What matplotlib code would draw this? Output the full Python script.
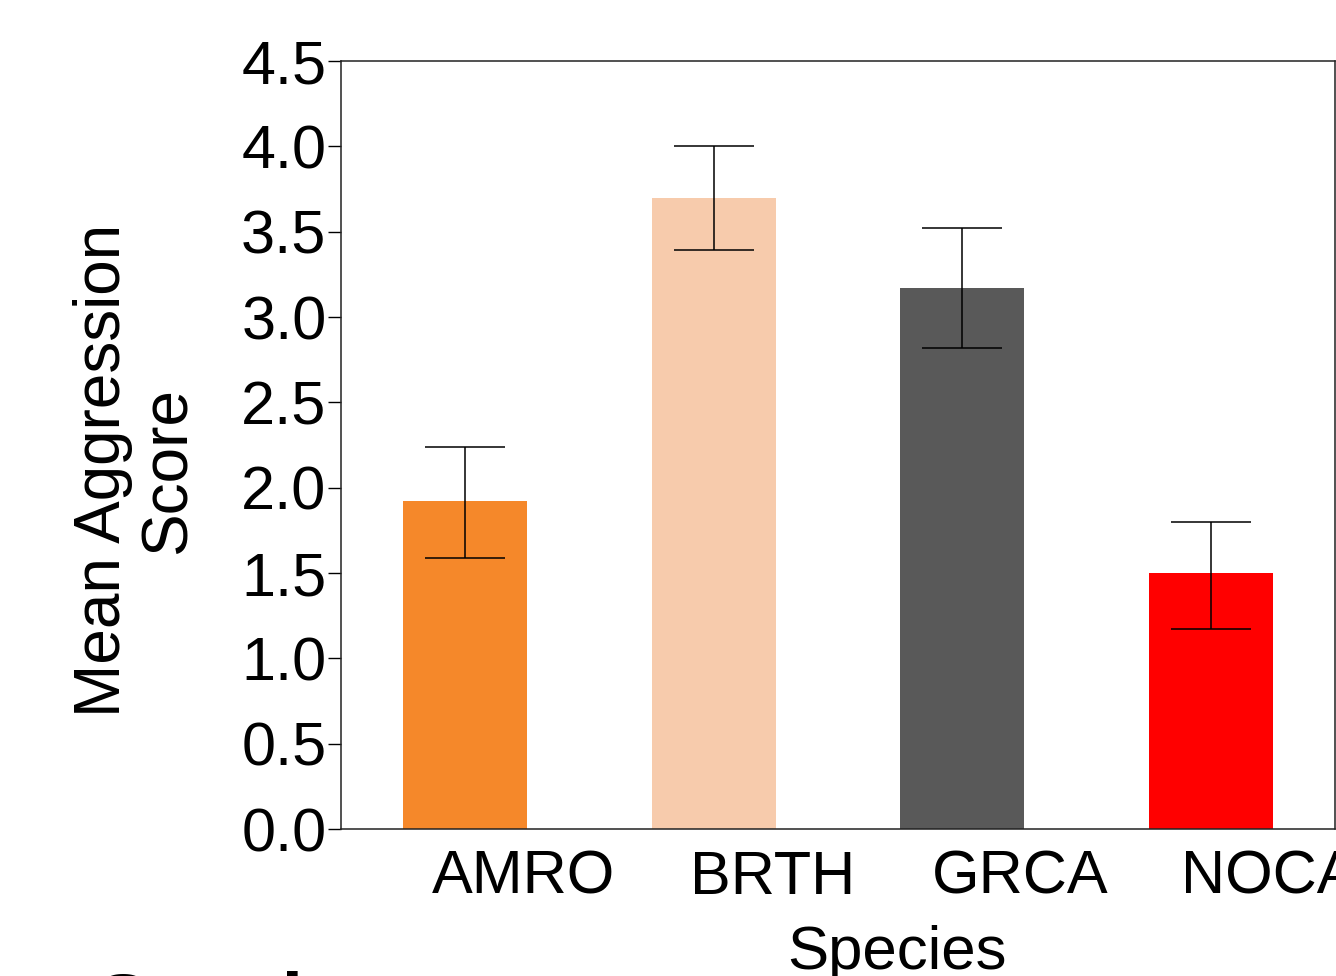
import matplotlib
matplotlib.use("Agg")
import matplotlib.pyplot as plt

plt.rcParams['font.family'] = ['Liberation Sans', 'DejaVu Sans']

# Data
species = ["AMRO", "BRTH", "GRCA", "NOCA"]
mean_score = [1.92, 3.70, 3.17, 1.50]
err_low = [1.59, 3.39, 2.82, 1.17]
err_high = [2.24, 4.00, 3.52, 1.80]
bar_colors = ["#F5882A", "#F7CBAC", "#595959", "#FF0000"]
y_ticks = [0.0, 0.5, 1.0, 1.5, 2.0, 2.5, 3.0, 3.5, 4.0, 4.5]

x = list(range(len(species)))
yerr = [[m - lo for m, lo in zip(mean_score, err_low)],
        [hi - m for m, hi in zip(mean_score, err_high)]]

fig = plt.figure(figsize=(13.36, 9.76), dpi=100)
ax = fig.add_axes([341 / 1336, 1 - 829 / 976, 994 / 1336, 768 / 976])

ax.bar(x, mean_score, width=0.5, color=bar_colors)
ax.errorbar(x, mean_score, yerr=yerr, fmt='none', ecolor='black',
            elinewidth=1.1, capsize=29, capthick=1.1)

ax.set_xlim(-0.5, 3.5)
ax.set_ylim(0, 4.5)
ax.set_yticks(y_ticks)
ax.set_yticklabels([f"{t:.1f}" for t in y_ticks])
ax.tick_params(axis='y', labelsize=44, length=9.5, width=1, pad=1)

# species labels sit a bit to the right of the bar centres
ax.set_xticks([i + 0.235 for i in x])
ax.set_xticklabels(species)
ax.tick_params(axis='x', labelsize=44, length=0, pad=15)

for sp in ax.spines.values():
    sp.set_linewidth(1.1)
    sp.set_color('#222222')

fig.text(897 / 1336, 1 - 925 / 976, "Species", fontsize=44.5,
         ha='center', va='top')
fig.text(136 / 1336, 1 - 470 / 976, "Mean Aggression\nScore", fontsize=46,
         rotation=90, ha='center', va='center', linespacing=1.12)
fig.text(97 / 1336, 1 - 971 / 976, "Species", fontsize=56,
         fontweight='bold', ha='left', va='top')

fig.savefig("out.png", dpi=100)
